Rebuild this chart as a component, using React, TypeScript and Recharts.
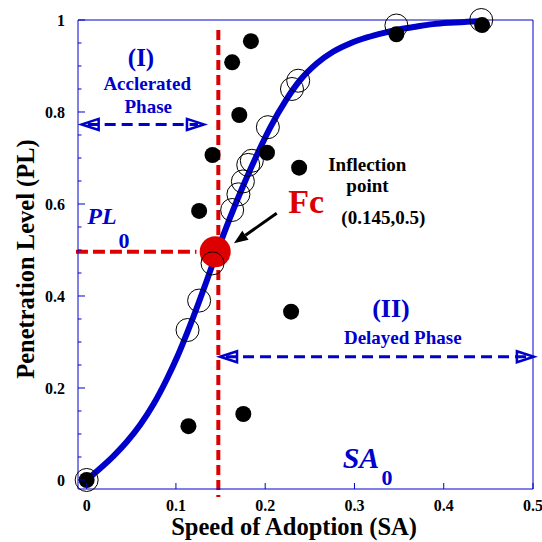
import React from 'react'
import { ComposedChart, Line, Scatter, XAxis, YAxis, ReferenceLine, ReferenceDot } from 'recharts'

// fitted S-curve
const curveSA = [0, 0.015, 0.03, 0.045, 0.06, 0.075, 0.09, 0.102, 0.113, 0.126, 0.135, 0.145, 0.16, 0.175, 0.192, 0.205, 0.224, 0.239, 0.258, 0.276, 0.295, 0.314, 0.333, 0.351, 0.37, 0.388, 0.407, 0.426, 0.444]
const curvePL = [0, 0.025, 0.052, 0.083, 0.12, 0.165, 0.22, 0.27, 0.322, 0.388, 0.436, 0.49, 0.567, 0.638, 0.712, 0.764, 0.828, 0.869, 0.906, 0.931, 0.949, 0.962, 0.972, 0.98, 0.986, 0.991, 0.994, 0.996, 0.998]

// open circles
const openSA = [0, 0.113, 0.126, 0.141, 0.163, 0.17, 0.175, 0.181, 0.185, 0.203, 0.23, 0.237, 0.347, 0.442]
const openPL = [0, 0.326, 0.39, 0.471, 0.587, 0.621, 0.649, 0.685, 0.694, 0.767, 0.85, 0.868, 0.988, 1.0]

// filled dots
const dotSA = [0, 0.114, 0.1755, 0.229, 0.184, 0.163, 0.171, 0.141, 0.126, 0.202, 0.238, 0.347, 0.443]
const dotPL = [0, 0.117, 0.1435, 0.366, 0.954, 0.908, 0.7935, 0.7065, 0.585, 0.7115, 0.679, 0.969, 0.989]

// inflection point Fc and the critical lines
const fcSA = [0.144]
const fcPL = [0.496]
const sa0 = 0.1475
const pl0 = 0.496

const xTicks = [0, 0.1, 0.2, 0.3, 0.4, 0.5]
const yTicks = [0, 0.05, 0.1, 0.15, 0.2, 0.25, 0.3, 0.35, 0.4, 0.45, 0.5, 0.55, 0.6, 0.65, 0.7, 0.75, 0.8, 0.85, 0.9, 0.95, 1]

const curve = curveSA.map((sa, i) => ({ sa, pl: curvePL[i] }))
const open = openSA.map((sa, i) => ({ sa, pl: openPL[i] }))
const dots = dotSA.map((sa, i) => ({ sa, pl: dotPL[i] }))
const fc = fcSA.map((sa, i) => ({ sa, pl: fcPL[i] }))

const BLUE = '#0000cc'
const RED = '#dd0000'
const SERIF = "'Liberation Serif', 'Times New Roman', Times, 'DejaVu Serif', serif"

const isMajor = (v: number) => Math.abs(v * 5 - Math.round(v * 5)) < 1e-6

const XTick = (p: any) => (
  <g>
    <line x1={p.x} y1={p.y} x2={p.x} y2={p.y - 6} stroke={BLUE} />
    <text x={p.x} y={p.y + 22} textAnchor="middle" fontFamily={SERIF} fontWeight="bold" fontSize={16} fill="#000">
      {p.payload.value}
    </text>
  </g>
)

const YTickLeft = (p: any) => {
  const major = isMajor(p.payload.value)
  return (
    <g>
      <line x1={p.x} y1={p.y} x2={p.x + (major ? 7 : 3.5)} y2={p.y} stroke={BLUE} />
      {major && (
        <text x={p.x - 13} y={p.y + 6} textAnchor="end" fontFamily={SERIF} fontWeight="bold" fontSize={16} fill="#000">
          {p.payload.value}
        </text>
      )}
    </g>
  )
}

const YTickRight = (p: any) => {
  const major = isMajor(p.payload.value)
  return <line x1={p.x} y1={p.y} x2={p.x - (major ? 6 : 4)} y2={p.y} stroke={BLUE} />
}

// dashed double arrow with open heads
const PhaseArrow = (p: any) => {
  const { x1, y1, x2, y2 } = p
  const L = 17
  const W = 5.5
  return (
    <g>
      <line x1={x1 + 6} y1={y1} x2={x2 - 6} y2={y2} stroke={BLUE} strokeWidth={3} strokeDasharray="11 6" />
      <path d={`M${x1 + L},${y1 - W} L${x1},${y1} L${x1 + L},${y1 + W} Z`} fill="none" stroke={BLUE} strokeWidth={2.5} />
      <path d={`M${x2 - L},${y2 - W} L${x2},${y2} L${x2 - L},${y2 + W} Z`} fill="none" stroke={BLUE} strokeWidth={2.5} />
    </g>
  )
}

const Pointer = (p: any) => {
  const { x1, y1, x2, y2 } = p
  const a = Math.atan2(y2 - y1, x2 - x1)
  const L = 14
  const W = 5.5
  const bx = x2 - L * Math.cos(a)
  const by = y2 - L * Math.sin(a)
  return (
    <g>
      <line x1={x1} y1={y1} x2={bx} y2={by} stroke="#000" strokeWidth={3} />
      <path
        d={`M${x2},${y2} L${bx + W * Math.sin(a)},${by - W * Math.cos(a)} L${bx - W * Math.sin(a)},${by + W * Math.cos(a)} Z`}
        fill="#000"
      />
    </g>
  )
}

const note = (sa: number, pl: number, body: React.ReactNode, size: number, color: string, anchor = 'middle') => (
  <ReferenceDot
    key={`${sa}-${pl}`}
    x={sa}
    y={pl}
    r={0}
    ifOverflow="visible"
    shape={(p: any) => (
      <text x={p.cx} y={p.cy} textAnchor={anchor} fontFamily={SERIF} fontWeight="bold" fontSize={size} fill={color}>
        {body}
      </text>
    )}
  />
)

export default function App() {
  return (
    <div style={{ position: 'absolute', left: 0, top: 0, background: '#fff' }}>
      <ComposedChart width={542} height={542} margin={{ top: 20, right: 0, bottom: 8, left: 18 }}>
        <XAxis
          type="number"
          dataKey="sa"
          domain={[-0.0097, 0.5]}
          ticks={xTicks}
          interval={0}
          tickSize={0}
          tickMargin={0}
          tickLine={false}
          tick={XTick}
          height={45}
          axisLine={{ stroke: BLUE }}
          label={(p: any) => (
            <text
              x={p.viewBox.x + 216}
              y={p.viewBox.y + 46}
              textAnchor="middle"
              fontFamily={SERIF}
              fontWeight="bold"
              fontSize={24.5}
              fill="#000"
            >
              Speed of Adoption (SA)
            </text>
          )}
        />
        <YAxis
          type="number"
          dataKey="pl"
          domain={[-0.0196, 1]}
          ticks={yTicks}
          interval={0}
          tickSize={0}
          tickMargin={0}
          tickLine={false}
          tick={YTickLeft}
          width={60}
          axisLine={{ stroke: BLUE }}
          label={(p: any) => (
            <text
              x={p.viewBox.x + 16}
              y={p.viewBox.y + p.viewBox.height / 2 + 4.5}
              textAnchor="middle"
              transform={`rotate(-90, ${p.viewBox.x + 16}, ${p.viewBox.y + p.viewBox.height / 2 + 4.5})`}
              fontFamily={SERIF}
              fontWeight="bold"
              fontSize={24.5}
              fill="#000"
            >
              Penetration Level (PL)
            </text>
          )}
        />
        <YAxis
          yAxisId="r"
          orientation="right"
          type="number"
          dataKey="pl"
          domain={[-0.0196, 1]}
          ticks={yTicks}
          interval={0}
          tickSize={0}
          tickMargin={0}
          tickLine={false}
          tick={YTickRight}
          width={9}
          axisLine={{ stroke: BLUE }}
        />
        <ReferenceLine y={1} stroke={BLUE} ifOverflow="visible" />

        {/* critical speed and level */}
        <ReferenceLine
          segment={[{ x: sa0, y: 0.978 }, { x: sa0, y: -0.037 }]}
          stroke={RED}
          strokeWidth={4}
          strokeDasharray="10 5"
          ifOverflow="visible"
        />
        <ReferenceLine
          segment={[{ x: -0.012, y: pl0 }, { x: 0.123, y: pl0 }]}
          stroke={RED}
          strokeWidth={4}
          strokeDasharray="12 5"
          ifOverflow="visible"
        />
        <Scatter
          data={fc}
          isAnimationActive={false}
          shape={(p: any) => <circle cx={p.cx} cy={p.cy} r={15.5} fill={RED} />}
        />

        <Line
          data={curve}
          dataKey="pl"
          type="monotone"
          stroke={BLUE}
          strokeWidth={6}
          dot={false}
          activeDot={false}
          isAnimationActive={false}
        />
        <Scatter
          data={open}
          isAnimationActive={false}
          shape={(p: any) => <circle cx={p.cx} cy={p.cy} r={11.5} fill="none" stroke="#000" strokeWidth={1} />}
        />
        <Scatter
          data={dots}
          isAnimationActive={false}
          shape={(p: any) => <circle cx={p.cx} cy={p.cy} r={8} fill="#000" />}
        />

        {/* phase arrows */}
        <ReferenceLine segment={[{ x: -0.0056, y: 0.773 }, { x: 0.1314, y: 0.773 }]} ifOverflow="visible" shape={PhaseArrow} />
        <ReferenceLine segment={[{ x: 0.1494, y: 0.268 }, { x: 0.501, y: 0.268 }]} ifOverflow="visible" shape={PhaseArrow} />
        <ReferenceLine segment={[{ x: 0.2129, y: 0.5798 }, { x: 0.165, y: 0.5146 }]} ifOverflow="visible" shape={Pointer} />

        {note(0.0609, 0.9, '(I)', 25, BLUE)}
        {note(0.0678, 0.848, 'Acclerated', 19, BLUE)}
        {note(0.069, 0.798, 'Phase', 19, BLUE)}
        {note(0.3409, 0.3533, '(II)', 26, BLUE)}
        {note(0.3541, 0.2957, 'Delayed Phase', 19, BLUE)}
        {note(0.2259, 0.5798, 'Fc', 34, RED, 'start')}
        {note(0.3143, 0.6724, 'Inflection', 19, '#000')}
        {note(0.3146, 0.625, 'point', 19, '#000')}
        {note(0.3323, 0.5565, '(0.145,0.5)', 19, '#000')}
        {note(
          0.0007,
          0.5565,
          <>
            <tspan fontStyle="italic">PL</tspan>
            <tspan dx={2} dy={24} fontSize={22}>0</tspan>
          </>,
          24,
          BLUE,
          'start'
        )}
        {note(
          0.2868,
          0.0254,
          <>
            <tspan fontStyle="italic">SA</tspan>
            <tspan dx={2} dy={17} fontSize={22}>0</tspan>
          </>,
          30,
          BLUE,
          'start'
        )}
      </ComposedChart>
    </div>
  )
}
